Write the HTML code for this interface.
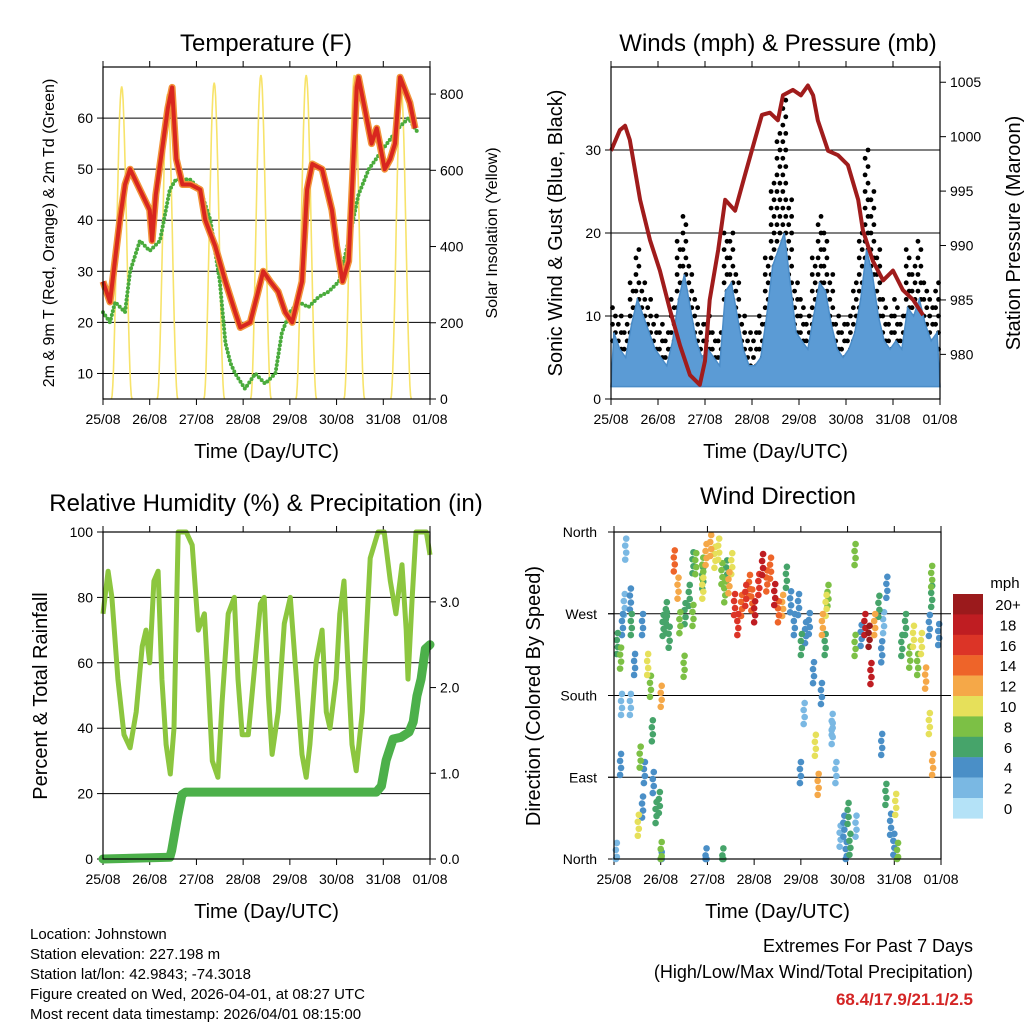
<!DOCTYPE html>
<html><head><meta charset="utf-8"><style>
body{margin:0;background:#fff}
svg text{font-family:"Liberation Sans",sans-serif;fill:#000}
</style></head><body>
<svg id="s" width="1024" height="1024" viewBox="0 0 1024 1024" xmlns="http://www.w3.org/2000/svg">
<rect width="1024" height="1024" fill="#fff"/>
<g id="g"></g>
</svg>
<script>
const dayLabels=["25/08","26/08","27/08","28/08","29/08","30/08","31/08","01/08"];
const tempT=[0,0.15,0.36,0.47,0.58,0.79,1.0,1.05,1.13,1.39,1.48,1.57,1.7,1.87,2.08,2.19,2.4,2.62,2.83,2.94,3.15,3.32,3.43,3.58,3.75,3.9,4.05,4.26,4.37,4.48,4.69,4.9,5.0,5.13,5.26,5.43,5.47,5.6,5.75,5.86,6.03,6.15,6.25,6.36,6.57,6.68];
const tempF=[28,24,40,47,50,46,42,36,45,62,66,52,47,47,46,40,35,28,22,19,20,26,30,28,26,22,20,28,46,51,50,42,35,28,32,66,68,62,55,58,50,52,55,68,63,58];
const dewT=[0,0.15,0.26,0.47,0.58,0.79,1.0,1.22,1.43,1.56,1.86,2.08,2.3,2.5,2.62,2.73,2.83,3.04,3.26,3.47,3.69,3.83,4.0,4.19,4.4,4.62,4.83,5.05,5.26,5.47,5.69,6.0,6.32,6.54,6.75];
const dewF=[22,20,24,22,30,36,34,36,46,48,48,46,40,28,16,12,10,7,10,8,10,18,22,24,23,25,26,28,36,45,50,54,58,60,57];
const solarC=[0.4,1.38,2.38,3.38,4.35,5.38,6.38];
const solarPeak=[820,800,830,850,850,850,820];
const windHigh=[8,6,5,9,12,10,8,6, 5,4,7,12,15,11,7,5, 6,5,4,13,14,10,6,4, 4,5,10,16,18,20,14,8, 7,6,10,14,13,9,6,5, 6,8,12,18,15,10,7,6, 7,6,11,10,12,9,7,8];
const gust=[11,10,9,14,18,14,12,10, 9,8,12,19,22,16,12,9, 10,8,8,20,20,15,10,8, 8,10,17,26,32,36,24,14, 12,10,17,22,20,15,10,9, 10,14,20,30,25,18,12,10, 12,10,18,16,19,14,12,14];
const presT=[0,0.19,0.3,0.4,0.62,0.83,1.04,1.26,1.47,1.68,1.89,2.0,2.1,2.28,2.43,2.64,2.85,3.06,3.21,3.38,3.55,3.66,3.87,4.04,4.19,4.3,4.4,4.62,4.83,5.04,5.26,5.36,5.57,5.79,6.0,6.21,6.43,6.64];
const presMb=[998.7,1000.6,1001.0,999.7,994.2,990.5,987.7,984.0,980.8,978.1,977.2,979.4,985.0,989.6,994.2,993.2,996.5,999.7,1002.0,1002.2,1001.5,1003.8,1004.3,1003.8,1004.7,1003.8,1001.5,998.7,998.3,997.4,994.2,991.4,988.6,986.8,987.7,985.9,985.0,983.6];
const rhT=[0,0.11,0.19,0.32,0.45,0.58,0.71,0.84,0.92,1.0,1.09,1.18,1.26,1.35,1.44,1.52,1.61,1.78,1.91,2.04,2.17,2.25,2.34,2.46,2.55,2.68,2.81,2.89,2.98,3.11,3.24,3.37,3.45,3.54,3.62,3.75,3.88,4.01,4.14,4.26,4.35,4.43,4.56,4.69,4.78,4.86,4.99,5.07,5.16,5.24,5.33,5.42,5.55,5.72,5.89,6.02,6.15,6.27,6.4,6.49,6.53,6.62,6.7,6.92,7.0];
const rhPct=[75,88,80,55,38,34,45,65,70,60,85,88,55,35,26,40,100,100,96,70,75,55,30,25,48,75,80,55,38,38,58,78,80,50,32,45,72,80,55,32,25,35,60,70,45,40,55,75,85,60,35,27,45,92,100,100,85,75,90,70,55,80,100,100,93];
const rainT=[0,1.43,1.47,1.6,1.69,1.77,5.85,5.96,6.06,6.21,6.38,6.55,6.64,6.72,6.81,6.9,7.0];
const rainIn=[0,0.02,0.1,0.5,0.75,0.78,0.78,0.85,1.15,1.4,1.42,1.48,1.6,1.9,2.1,2.45,2.5];
const wdT=[0.06,0.13,0.17,0.21,0.15,0.13,0.24,0.04,0.36,0.43,0.34,0.6,0.71,0.77,0.81,0.64,0.55,0.6,0.51,0.83,0.89,0.96,1.0,1.0,1.11,1.17,1.11,1.04,1.0,1.28,1.36,1.4,1.49,1.51,1.6,1.68,1.74,1.89,1.89,1.96,2.06,2.15,2.23,2.3,2.36,2.4,2.45,2.51,2.57,2.64,2.72,2.81,2.89,2.94,3.0,3.09,3.17,3.26,3.34,3.43,3.51,3.6,3.68,3.77,3.85,3.94,4.0,4.09,4.17,4.26,3.98,4.06,4.3,4.36,4.45,4.53,4.57,4.51,4.43,4.66,4.74,4.83,4.91,4.96,5.0,5.04,5.15,5.28,5.36,5.45,5.49,5.57,5.66,5.72,5.76,5.83,5.72,5.81,5.91,5.98,6.06,6.02,6.15,6.23,6.32,6.4,6.49,6.57,6.66,6.74,6.79,6.79,6.74,6.81,6.94,1.96,2.32,1.68,1.89,0.34,5.15,4.66,5.17];
const wdDir=[241,225,262,284,174,108,345,10,262,218,174,262,218,194,145,99,116,61,41,88,55,66,11,0,275,248,264,261,183,332,302,264,216,274,294,272,329,324,302,339,349,336,345,318,298,321,308,329,284,262,283,294,305,289,276,306,328,310,324,295,276,283,314,287,262,284,240,253,263,209,99,164,129,86,262,283,294,240,186,152,99,29,40,11,54,20,239,250,262,249,208,262,282,232,264,303,130,75,42,20,10,64,239,262,226,249,218,241,203,261,293,315,153,108,251,4,4,330,313,290,339,142,40,175];
const wdSpd=[6,8,4,2,2,3,1,1,6,4,2,4,10,8,6,4,8,3,10,4,6,5,7,4,5,6,6,6,12,14,12,7,7,6,5,8,7,7,10,11,11,10,9,8,8,6,12,10,16,15,14,16,14,13,18,16,17,14,13,18,14,12,6,4,4,4,6,3,4,3,4,2,9,11,12,10,8,6,4,2,1,2,4,3,6,5,8,4,18,20,18,12,6,4,2,3,4,6,4,4,8,10,6,6,8,10,8,10,12,4,6,8,10,12,3,4,6,6,5,3,8,2,1,2,4];
const cbLabels=["20+","18","16","14","12","10","8","6","4","2","0"];
const cbColors=["#9b1a1c","#bf1d22","#dc3427","#ee6429","#f5a848","#e6e05a","#7cc045","#46a46a","#4a8fc7","#7ab8e3","#b4e2f7"];

const NS="http://www.w3.org/2000/svg";const G=document.getElementById('g');
function el(tag,attrs,parent){const e=document.createElementNS(NS,tag);for(const k in attrs)e.setAttribute(k,attrs[k]);(parent||G).appendChild(e);return e;}
function txt(x,y,s,size,anchor,name,extra){const t=el('text',Object.assign({x:x,y:y,'font-size':size,'text-anchor':anchor||'middle'},extra||{}));t.textContent=s;


return t;}
function lin(d0,d1,r0,r1){return v=>r0+(v-d0)/(d1-d0)*(r1-r0);}
function spdColor(s){let i=Math.min(10,Math.max(0,Math.round(s/2)));return cbColors[10-i];}
function frame(x0,y0,x1,y1,name){
  const r=el('rect',{x:x0,y:y0,width:x1-x0,height:y1-y0,fill:'none',stroke:'#000','stroke-width':1.2});
  
  
}
function xAxis(x0,x1,y0,y1,pre){
  const X=lin(0,7,x0,x1);
  for(let d=0;d<=7;d++){
    el('line',{x1:X(d),x2:X(d),y1:y1,y2:y1+6,stroke:'#000'});
    el('line',{x1:X(d),x2:X(d),y1:y0,y2:y0-6,stroke:'#000'});
    txt(X(d),y1+25,dayLabels[d],14,'middle',pre+'-x-tick-'+d);
  }
  txt((x0+x1)/2,y1+59,"Time (Day/UTC)",20,'middle',pre+'-x-axis-title');
  return X;
}
function hgrid(x0,x1,y){el('line',{x1:x0,x2:x1,y1:y,y2:y,stroke:'#000','stroke-width':1});}
function path(pts,attrs,name){const p=el('path',Object.assign({d:'M'+pts.map(p=>p[0].toFixed(1)+','+p[1].toFixed(1)).join('L'),fill:'none'},attrs));

return p;}

{
 const x0=103,x1=430,y0=67,y1=399;
 const X=xAxis(x0,x1,y0,y1,'temp');
 const Y=lin(5,70,y1,y0), YS=lin(0,871,y1,y0);
 for(let v=10;v<=60;v+=10){hgrid(x0,x1,Y(v));el('line',{x1:x0-6,x2:x0,y1:Y(v),y2:Y(v),stroke:'#000'});txt(x0-10,Y(v)+5,String(v),14,'end','temp-y-tick-'+v);}
 for(let v=0;v<=800;v+=200){el('line',{x1:x1,x2:x1+6,y1:YS(v),y2:YS(v),stroke:'#000'});txt(x1+10,YS(v)+5,String(v),14,'start','solar-y-tick-'+v);}
 solarC.forEach((c,i)=>{const pts=[];for(let k=0;k<=30;k++){const t=c-0.22+k*0.44/30;const w=Math.cos((t-c)/0.22*Math.PI/2);pts.push([X(t),YS(solarPeak[i]*w*w)]);}
  path(pts,{stroke:'#f7e36a','stroke-width':1.6},'solar-insolation-day-'+i);});
 path(dewT.map((t,i)=>[X(t),Y(dewF[i])]),{stroke:'#4aab3c','stroke-width':4,'stroke-dasharray':'0 4','stroke-linecap':'round'},'dewpoint-line');
 const tp=tempT.map((t,i)=>[X(t),Y(tempF[i])]);
 path(tp,{stroke:'#f2933a','stroke-width':7,'stroke-linejoin':'round'},'temp-9m-line');
 path(tp,{stroke:'#d8261f','stroke-width':4,'stroke-linejoin':'round'},'temp-2m-line');
 frame(x0,y0,x1,y1,'temp-plot-frame');
 txt(266,51,"Temperature (F)",24,'middle','temp-title');
 txt(0,0,"2m & 9m T (Red, Orange) & 2m Td (Green)",16,'middle','temp-y-axis-title',{transform:'translate(54,233) rotate(-90)'});
 txt(0,0,"Solar Insolation (Yellow)",16,'middle','solar-y-axis-title',{transform:'translate(497,233) rotate(-90)'});
}
{
 const x0=611,x1=940,y0=67,y1=399;
 const X=xAxis(x0,x1,y0,y1,'wind');
 const Y=lin(0,40,y1,y0), YP=lin(975.9,1006.4,y1,y0);
 for(let v=0;v<=30;v+=10){if(v>0)hgrid(x0,x1,Y(v));el('line',{x1:x0-6,x2:x0,y1:Y(v),y2:Y(v),stroke:'#000'});txt(x0-10,Y(v)+5,String(v),14,'end','wind-y-tick-'+v);}
 for(let v=980;v<=1005;v+=5){el('line',{x1:x1,x2:x1+6,y1:YP(v),y2:YP(v),stroke:'#000'});txt(x1+10,YP(v)+5,String(v),14,'start','pressure-y-tick-'+v);}
 const n=windHigh.length, dt=7/n;
 const gg=el('g',{});
 for(let i=0;i<n;i++){const t=i*dt+dt/2;let j=0;for(let v=windHigh[i]-2;v<=gust[i];v+=1.0){el('circle',{cx:X(t+((j%2)?-1:1)*dt/4),cy:Y(v),r:2.4,fill:'#000'},gg);j++;}}
 const pts=[[X(0),Y(1.5)]];for(let i=0;i<n;i++){pts.push([X(i*dt+dt/2),Y(windHigh[i])]);}pts.push([X(7),Y(1.5)]);
 const wp=path(pts,{fill:'#5b9bd5',stroke:'#4a8cc8','stroke-width':1.5},'wind-speed-area');wp.setAttribute('d',wp.getAttribute('d')+'Z');
 path(presT.map((t,i)=>[X(t),YP(presMb[i])]),{stroke:'#a01c1c','stroke-width':4,'stroke-linejoin':'round'},'pressure-line');
 frame(x0,y0,x1,y1,'wind-plot-frame');
 txt(778,51,"Winds (mph) & Pressure (mb)",24,'middle','wind-title');
 txt(0,0,"Sonic Wind & Gust (Blue, Black)",20,'middle','wind-y-axis-title',{transform:'translate(562,233) rotate(-90)'});
 txt(0,0,"Station Pressure (Maroon)",20,'middle','pressure-y-axis-title',{transform:'translate(1020,233) rotate(-90)'});
}
{
 const x0=103,x1=430,y0=532,y1=859;
 const X=xAxis(x0,x1,y0,y1,'rh');
 const Y=lin(0,100,y1,y0), YR=lin(0,3.815,y1,y0);
 for(let v=0;v<=100;v+=20){if(v>0&&v<100)hgrid(x0,x1,Y(v));el('line',{x1:x0-6,x2:x0,y1:Y(v),y2:Y(v),stroke:'#000'});txt(x0-10,Y(v)+5,String(v),14,'end','rh-y-tick-'+v);}
 for(let v=0;v<=3;v++){el('line',{x1:x1,x2:x1+6,y1:YR(v),y2:YR(v),stroke:'#000'});txt(x1+10,YR(v)+5,v.toFixed(1),14,'start','rain-y-tick-'+v);}
 path(rhT.map((t,i)=>[X(t),Y(rhPct[i])]),{stroke:'#8cc63f','stroke-width':5,'stroke-linejoin':'round'},'rh-line');
 path(rainT.map((t,i)=>[X(t),YR(rainIn[i])]),{stroke:'#4cb04a','stroke-width':9,'stroke-linejoin':'round','stroke-linecap':'round'},'rainfall-line');
 frame(x0,y0,x1,y1,'rh-plot-frame');
 txt(266,511,"Relative Humidity (%) & Precipitation (in)",24,'middle','rh-title');
 txt(0,0,"Percent & Total Rainfall",20,'middle','rh-y-axis-title',{transform:'translate(47,696) rotate(-90)'});
}
{
 const x0=614,x1=941,y0=532,y1=859;
 const X=xAxis(x0,x1,y0,y1,'dir');
 const Y=lin(0,360,y1,y0);
 const dl=["North","East","South","West","North"];
 for(let i=0;i<5;i++){const v=i*90;if(i>0&&i<4)hgrid(x0-6,x1+10,Y(v));el('line',{x1:x0-6,x2:x0,y1:Y(v),y2:Y(v),stroke:'#000'});txt(x0-17,Y(v)+5,dl[i],14,'end','dir-y-tick-'+i);}
 const dg=el('g',{});
 const idx=wdT.map((t,i)=>i).sort((a,b)=>wdSpd[a]-wdSpd[b]);
 idx.forEach(i=>{for(const o of [-7,0,7,14]){const cy=Math.min(y1,Math.max(y0,Y(wdDir[i])+o));
  el('circle',{cx:X(wdT[i])+(o%2?1:0),cy:cy,r:3.3,fill:spdColor(wdSpd[i])},dg);}});
 frame(x0,y0,x1,y1,'dir-plot-frame');
 txt(778,504,"Wind Direction",24,'middle','dir-title');
 txt(0,0,"Direction (Colored By Speed)",20,'middle','dir-y-axis-title',{transform:'translate(540,696) rotate(-90)'});
 txt(1005,588,"mph",15,'middle','colorbar-unit');
 cbLabels.forEach((l,i)=>{const r=el('rect',{x:953,y:594+i*20.4,width:30,height:20.6,fill:cbColors[i]});
  
  txt(1008,610+i*20.4,l,15,'middle','colorbar-label-'+i);});
}
["Location: Johnstown","Station elevation: 227.198 m","Station lat/lon: 42.9843; -74.3018","Figure created on Wed, 2026-04-01, at 08:27 UTC","Most recent data timestamp: 2026/04/01 08:15:00"].forEach((s,i)=>txt(30,939+i*20,s,15,'start','footer-line-'+i));
txt(973,952,"Extremes For Past 7 Days",18,'end','extremes-title');
txt(973,978,"(High/Low/Max Wind/Total Precipitation)",18,'end','extremes-subtitle');
txt(973,1005,"68.4/17.9/21.1/2.5",17,'end','extremes-values',{'font-weight':'bold',style:'fill:#d42525'});
</script>
</body></html>
